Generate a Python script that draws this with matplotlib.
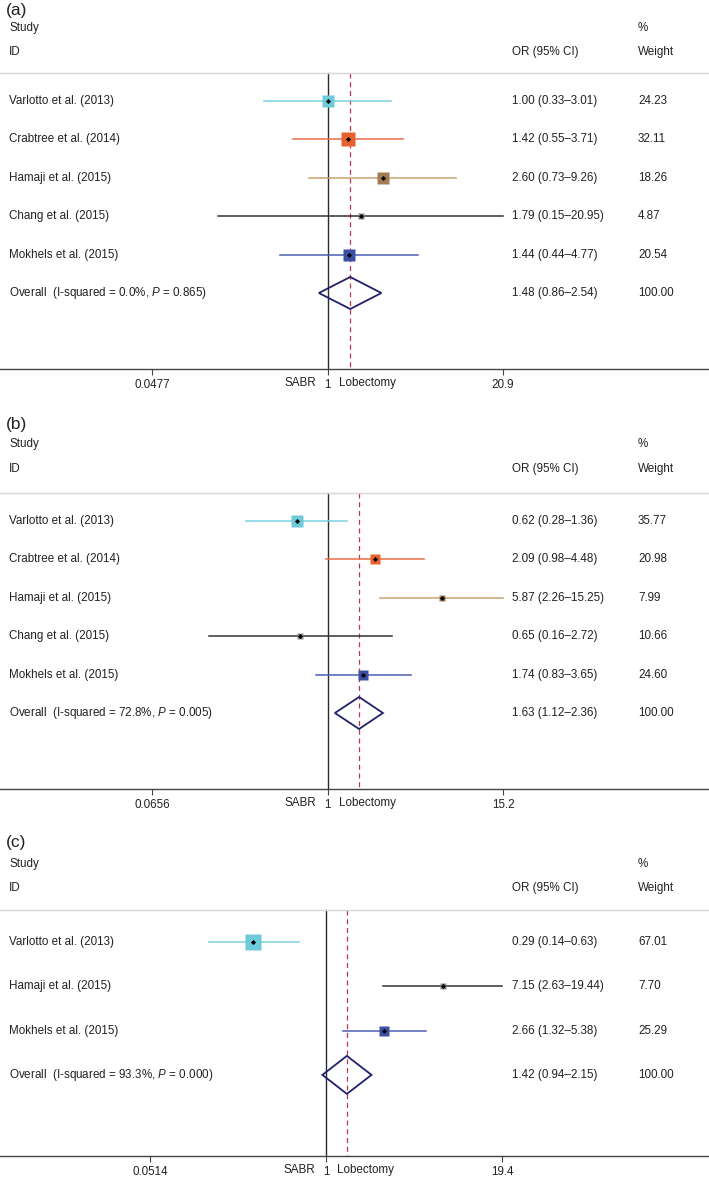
import matplotlib
matplotlib.use("Agg")
import matplotlib.pyplot as plt
import numpy as np
from matplotlib.patches import Polygon
from matplotlib.transforms import blended_transform_factory, offset_copy

plt.rcParams['font.family'] = ['Liberation Sans', 'DejaVu Sans']
plt.rcParams['mathtext.fontset'] = 'custom'
plt.rcParams['mathtext.rm'] = 'Liberation Sans'
plt.rcParams['mathtext.it'] = 'Liberation Sans:italic'

W, H = 709, 1187

# ---- data ----
studies_a = ["Varlotto et al. (2013)", "Crabtree et al. (2014)", "Hamaji et al. (2015)",
             "Chang et al. (2015)", "Mokhels et al. (2015)"]
or_a = [1.00, 1.42, 2.60, 1.79, 1.44]
lo_a = [0.33, 0.55, 0.73, 0.15, 0.44]
hi_a = [3.01, 3.71, 9.26, 20.95, 4.77]
wt_a = [24.23, 32.11, 18.26, 4.87, 20.54]
overall_a = [1.48, 0.86, 2.54]
i2_a, p_a = 0.0, 0.865
ticks_a = [0.0477, 1, 20.9]

studies_b = studies_a
or_b = [0.62, 2.09, 5.87, 0.65, 1.74]
lo_b = [0.28, 0.98, 2.26, 0.16, 0.83]
hi_b = [1.36, 4.48, 15.25, 2.72, 3.65]
wt_b = [35.77, 20.98, 7.99, 10.66, 24.60]
overall_b = [1.63, 1.12, 2.36]
i2_b, p_b = 72.8, 0.005
ticks_b = [0.0656, 1, 15.2]

studies_c = ["Varlotto et al. (2013)", "Hamaji et al. (2015)", "Mokhels et al. (2015)"]
or_c = [0.29, 7.15, 2.66]
lo_c = [0.14, 2.63, 1.32]
hi_c = [0.63, 19.44, 5.38]
wt_c = [67.01, 7.70, 25.29]
overall_c = [1.42, 0.94, 2.15]
i2_c, p_c = 93.3, 0.000
ticks_c = [0.0514, 1, 19.4]

# (line colour, box colour)
CYAN = ("#7dcfe0", "#6ccad9")
ORANGE = ("#e86d48", "#e8622f")
TAN = ("#c9a070", "#a47a52")
BLACK = ("#333333", "#8a8a8a")
BLUE = ("#4b5db2", "#3b50a3")
colors_a = [CYAN, ORANGE, TAN, BLACK, BLUE]
colors_b = colors_a
colors_c = [CYAN, BLACK, BLUE]

FS = 8.4


def draw_panel(fig, letter, studies, ors, los, his, wts, overall, i2, p, ticks, colors, lay):
    top, bottom = lay['top'], lay['axis']
    ax = fig.add_axes([0, 1 - bottom / H, 1, (bottom - top) / H])
    ax.set_ylim(bottom, top)
    ax.set_xscale('log')
    l0, l1 = np.log10(ticks[0]), np.log10(ticks[-1])
    k = (l1 - l0) / (lay['px_hi'] - lay['px_lo'])
    ax.set_xlim(10 ** (l0 - lay['px_lo'] * k), 10 ** (l0 + (W - lay['px_lo']) * k))

    for s in ['top', 'left', 'right']:
        ax.spines[s].set_visible(False)
    ax.spines['bottom'].set_color('#444444')
    ax.spines['bottom'].set_linewidth(1.0)
    ax.set_yticks([])
    ax.minorticks_off()
    ax.set_xticks(ticks)
    ax.set_xticklabels([f"{t:g}" for t in ticks])
    ax.tick_params(axis='x', which='major', length=4, width=0.8, color='#444444',
                   labelsize=FS, pad=3, labelcolor='#222222')
    ax.tick_params(axis='x', which='minor', length=0)

    tr = blended_transform_factory(ax.transAxes, ax.transData)
    txt = dict(fontsize=FS, color='#222222', va='center', transform=tr)

    # header
    ax.text(6 / W, lay['letter'], f"({letter})", fontsize=12.5, color='#222222',
            va='center', transform=tr)
    ax.text(9 / W, lay['study'], "Study", **txt)
    ax.text(9 / W, lay['id'], "ID", **txt)
    ax.text(512 / W, lay['id'], "OR (95% CI)", **txt)
    ax.text(638 / W, lay['study'], "%", **txt)
    ax.text(638 / W, lay['id'], "Weight", **txt)
    ax.axhline(lay['sep'], color='#d6d6d6', lw=1.0)

    ys = lay['row0'] + lay['gap'] * np.arange(len(studies) + 1)

    # reference lines
    ax.plot([1, 1], [lay['sep'], bottom], color='#2a2a2a', lw=1.0, zorder=1)
    ax.plot([overall[0]] * 2, [lay['sep'], bottom], color='#b83a4b', lw=0.9,
            dashes=(4, 3), zorder=1)

    for i, name in enumerate(studies):
        y = ys[i]
        lc, bc = colors[i]
        ax.plot([los[i], his[i]], [y, y], color=lc, lw=1.1, zorder=2)
        side = lay['sq'] * np.sqrt(wts[i])
        ax.plot(ors[i], y, marker='s', ms=side * 0.72, color=bc, mec='none', zorder=3)
        ax.plot(ors[i], y, marker='D', ms=2.6, color='black', mec='none', zorder=4)
        ax.text(9 / W, y, name, **txt)
        ax.text(512 / W, y, f"{ors[i]:.2f} ({los[i]:.2f}\u2013{his[i]:.2f})", **txt)
        ax.text(638 / W, y, f"{wts[i]:.2f}", **txt)

    # overall diamond
    y = ys[-1]
    dh = lay['dh']
    est, lo, hi = overall
    ax.add_patch(Polygon([(lo, y), (est, y - dh), (hi, y), (est, y + dh)], closed=True,
                         fill=False, edgecolor='#20206b', lw=1.3, zorder=3))
    ax.text(9 / W, y, f"Overall  (I-squared = {i2:.1f}%, $\\mathit{{P}}$ = {p:.3f})", **txt)
    ax.text(512 / W, y, f"{est:.2f} ({lo:.2f}\u2013{hi:.2f})", **txt)
    ax.text(638 / W, y, "100.00", **txt)

    # direction labels
    ax.text(1, bottom, "SABR", fontsize=FS, color='#222222', ha='right', va='center',
            transform=offset_copy(ax.transData, fig=fig, x=-11, y=-14, units='dots'),
            clip_on=False)
    ax.text(1, bottom, "Lobectomy", fontsize=FS, color='#222222', ha='left', va='center',
            transform=offset_copy(ax.transData, fig=fig, x=11, y=-14, units='dots'),
            clip_on=False)
    return ax


fig = plt.figure(figsize=(W / 100, H / 100), dpi=100)

lay_a = dict(top=0, letter=10, study=28, id=52, sep=73, row0=101, gap=38.4, axis=369,
             px_lo=152, px_hi=503, sq=2.64, dh=16)
lay_b = dict(top=415, letter=425, study=444, id=469, sep=493, row0=521, gap=38.4, axis=789,
             px_lo=152, px_hi=503, sq=2.0, dh=16)
lay_c = dict(top=835, letter=842, study=864, id=888, sep=910, row0=942, gap=44.3, axis=1156,
             px_lo=150, px_hi=502, sq=1.9, dh=19)

draw_panel(fig, "a", studies_a, or_a, lo_a, hi_a, wt_a, overall_a, i2_a, p_a, ticks_a, colors_a, lay_a)
draw_panel(fig, "b", studies_b, or_b, lo_b, hi_b, wt_b, overall_b, i2_b, p_b, ticks_b, colors_b, lay_b)
draw_panel(fig, "c", studies_c, or_c, lo_c, hi_c, wt_c, overall_c, i2_c, p_c, ticks_c, colors_c, lay_c)

fig.savefig("out.png", dpi=100)
